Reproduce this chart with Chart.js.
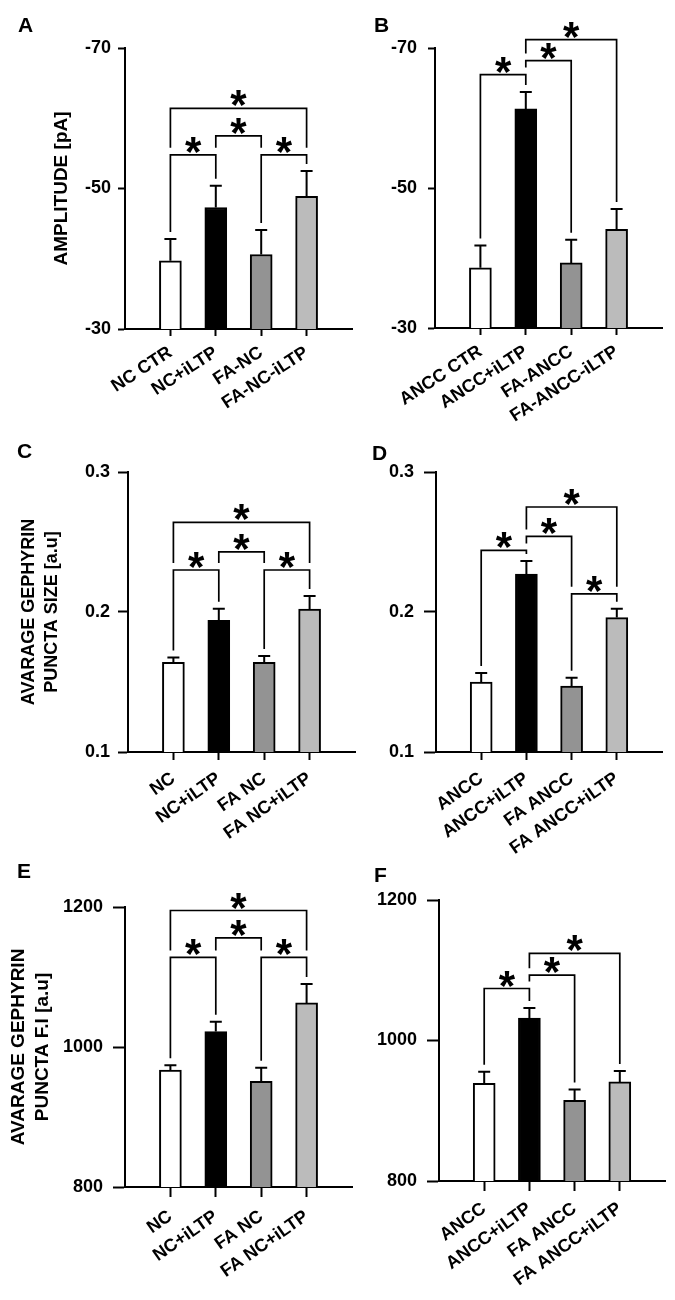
<!DOCTYPE html>
<html><head><meta charset="utf-8">
<script src="https://cdn.jsdelivr.net/npm/chart.js@4.4.1/dist/chart.umd.min.js"></script>
<style>
html,body{margin:0;padding:0;background:#fff;}
#wrap{position:relative;width:675px;height:1300px;overflow:hidden;background:#fff;}
canvas{position:absolute;}
.lbl{position:absolute;font:bold 21px "Liberation Sans",Arial,sans-serif;line-height:21px;color:#000;}
</style></head><body>
<div id="wrap">
<canvas id="cA" width="360" height="430" style="left:0;top:0"></canvas>
<canvas id="cB" width="315" height="430" style="left:360px;top:0"></canvas>
<canvas id="cC" width="360" height="420" style="left:0;top:430px"></canvas>
<canvas id="cE" width="360" height="450" style="left:0;top:850px"></canvas>
<canvas id="cF" width="315" height="450" style="left:360px;top:850px"></canvas>
<canvas id="cD" width="315" height="440" style="left:360px;top:430px"></canvas>
<div class="lbl" style="left:18px;top:14px">A</div>
<div class="lbl" style="left:374px;top:14px">B</div>
<div class="lbl" style="left:17px;top:440px">C</div>
<div class="lbl" style="left:372px;top:442px">D</div>
<div class="lbl" style="left:17px;top:860px">E</div>
<div class="lbl" style="left:374px;top:864px">F</div>
</div>
<script>
const FONT = '"Liberation Sans", Arial, sans-serif';

// ---- data ----
const categoriesA = ['NC CTR', 'NC+iLTP', 'FA-NC', 'FA-NC-iLTP'];
const valuesA = [-39.7, -47.3, -40.6, -48.9];
const semA = [3.1, 3.1, 3.5, 3.6];
const bracketsA = [[0, 3, -61.4], [0, 1, -54.8], [1, 2, -57.5], [2, 3, -54.8]];
const ticksA = [-70, -50, -30];

const categoriesB = ['ANCC CTR', 'ANCC+iLTP', 'FA-ANCC', 'FA-ANCC-iLTP'];
const valuesB = [-38.6, -61.3, -39.3, -44.1];
const semB = [3.2, 2.4, 3.3, 2.9];
const bracketsB = [[0, 1, -66.2], [1, 2, -68.2], [1, 3, -71.2]];
const ticksB = [-70, -50, -30];

const categoriesC = ['NC', 'NC+iLTP', 'FA NC', 'FA NC+iLTP'];
const valuesC = [0.164, 0.194, 0.164, 0.202];
const semC = [0.0035, 0.0084, 0.0045, 0.0095];
const bracketsC = [[0, 3, 0.264], [0, 1, 0.230], [1, 2, 0.243], [2, 3, 0.230]];
const ticksC = [0.1, 0.2, 0.3];

const categoriesD = ['ANCC', 'ANCC+iLTP', 'FA ANCC', 'FA ANCC+iLTP'];
const valuesD = [0.150, 0.227, 0.147, 0.196];
const semD = [0.0065, 0.0095, 0.006, 0.0064];
const bracketsD = [[0, 1, 0.244], [1, 2, 0.254], [1, 3, 0.275], [2, 3, 0.213]];
const ticksD = [0.1, 0.2, 0.3];

const categoriesE = ['NC', 'NC+iLTP', 'FA NC', 'FA NC+iLTP'];
const valuesE = [967, 1022, 951, 1063];
const semE = [7, 14, 19.5, 27];
const bracketsE = [[0, 3, 1195], [0, 1, 1128], [1, 2, 1156], [2, 3, 1128]];
const ticksE = [800, 1000, 1200];

const categoriesF = ['ANCC', 'ANCC+iLTP', 'FA ANCC', 'FA ANCC+iLTP'];
const valuesF = [939, 1032, 915, 941];
const semF = [16.6, 14.2, 15.2, 15.6];
const bracketsF = [[0, 1, 1074], [1, 2, 1093], [1, 3, 1124]];
const ticksF = [800, 1000, 1200];

// ---- styles ----
const barColors = ['#ffffff', '#000000', '#939393', '#bbbbbb'];

function panel(id, cfg) {
  const n = cfg.categories.length;
  const sigPlugin = {
    id: 'sig' + id,
    afterDatasetsDraw(chart) {
      const c = chart.ctx, ys = chart.scales.y, meta = chart.getDatasetMeta(0);
      const base = ys.getBaseValue();
      c.save();
      c.strokeStyle = '#000';
      c.lineWidth = 2;
      c.lineJoin = 'miter';
      const errTop = [];
      cfg.values.forEach((v, i) => {
        const el = meta.data[i];
        const dir = v < base ? -1 : 1;
        const yTop = ys.getPixelForValue(v);
        const yErr = ys.getPixelForValue(v + dir * cfg.sem[i]);
        errTop.push(yErr);
        c.beginPath();
        c.moveTo(el.x, yTop); c.lineTo(el.x, yErr);
        c.moveTo(el.x - 6, yErr); c.lineTo(el.x + 6, yErr);
        c.stroke();
      });
      const lv = cfg.brackets.map(b => ys.getPixelForValue(b[2]));
      c.lineWidth = 1.7;
      cfg.brackets.forEach((b, k) => {
        const y = lv[k];
        const legEnd = idx => {
          let obs = errTop[idx];
          cfg.brackets.forEach((o, m) => {
            if (m !== k && o[0] <= idx && o[1] >= idx && lv[m] > y && lv[m] < obs) obs = lv[m];
          });
          return obs - 7;
        };
        const x1 = meta.data[b[0]].x, x2 = meta.data[b[1]].x;
        c.beginPath();
        c.moveTo(x1, legEnd(b[0])); c.lineTo(x1, y); c.lineTo(x2, y); c.lineTo(x2, legEnd(b[1]));
        c.stroke();
        c.fillStyle = '#000';
        c.font = 'bold 42px ' + FONT;
        c.textAlign = 'center';
        c.textBaseline = 'alphabetic';
        c.fillText('*', (x1 + x2) / 2, y + 11);
      });
      c.restore();
    }
  };
  const tickFont = { family: FONT, size: 18, weight: 'bold' };
  new Chart(document.getElementById(id), {
    type: 'bar',
    data: {
      datasets: [{
        data: cfg.values.map((v, i) => ({ x: i + 1, y: v })),
        backgroundColor: barColors,
        borderColor: '#000',
        borderWidth: 2,
        borderSkipped: false,
        barThickness: 22
      }]
    },
    options: {
      responsive: false,
      animation: false,
      events: [],
      layout: { padding: { top: cfg.pt, right: cfg.pr, left: 0, bottom: 0 } },
      plugins: { legend: { display: false }, tooltip: { enabled: false } },
      scales: {
        x: {
          type: 'linear', min: 0, max: n + 1, offset: false,
          afterBuildTicks: s => { s.ticks = cfg.categories.map((_, i) => ({ value: i + 1 })); },
          afterFit: s => { s.height = cfg.xh; s.paddingLeft = 0; s.paddingRight = 0; },
          ticks: {
            autoSkip: false, minRotation: cfg.rot, maxRotation: cfg.rot, color: '#000',
            font: tickFont, padding: cfg.xpad,
            callback: v => cfg.categories[v - 1] ?? ''
          },
          grid: { display: true, drawOnChartArea: false, drawTicks: true, tickLength: cfg.xtl, tickWidth: 2, tickColor: '#000', offset: false },
          border: { display: true, color: '#000', width: 2 }
        },
        y: {
          type: 'linear', min: cfg.min, max: cfg.max, reverse: cfg.reverse,
          afterBuildTicks: s => { s.ticks = cfg.ticks.map(v => ({ value: v })); },
          afterFit: s => { s.width = cfg.yw; s.paddingTop = 0; s.paddingBottom = 0; },
          ticks: { color: '#000', font: tickFont, padding: cfg.ypad, callback: v => cfg.fmt(v) },
          grid: { display: true, drawOnChartArea: false, drawTicks: true, tickLength: cfg.ytl, tickWidth: 2, tickColor: '#000' },
          border: { display: true, color: '#000', width: 2 },
          title: cfg.title ? {
            display: true, text: cfg.title, color: '#000',
            font: { family: FONT, size: cfg.tsize, weight: 'bold', lineHeight: cfg.tlh },
            padding: { top: cfg.tpad, bottom: 0 }
          } : { display: false }
        }
      }
    },
    plugins: [sigPlugin]
  });
}

const fmtInt = v => String(v);
const fmt1 = v => v.toFixed(1);

panel('cA', { categories: categoriesA, values: valuesA, sem: semA, brackets: bracketsA, ticks: ticksA,
  min: -70, max: -30, reverse: true, fmt: fmtInt, rot: 33,
  pt: 48, pr: 8, yw: 125, xh: 101, ytl: 7, ypad: 7, xtl: 7, xpad: 6,
  title: 'AMPLITUDE [pA]', tsize: 19, tlh: 1.2, tpad: 50 });
panel('cB', { categories: categoriesB, values: valuesB, sem: semB, brackets: bracketsB, ticks: ticksB,
  min: -70, max: -30, reverse: true, fmt: fmtInt, rot: 33,
  pt: 48, pr: 13, yw: 75, xh: 102, ytl: 7, ypad: 11, xtl: 7, xpad: 6 });
panel('cC', { categories: categoriesC, values: valuesC, sem: semC, brackets: bracketsC, ticks: ticksC,
  min: 0.1, max: 0.3, reverse: false, fmt: fmt1, rot: 35,
  pt: 42, pr: 5, yw: 128, xh: 98, ytl: 10, ypad: 8, xtl: 8, xpad: 8,
  title: ['AVARAGE GEPHYRIN', 'PUNCTA SIZE [a.u]'], tsize: 18, tlh: 1.28, tpad: 17.5 });
panel('cD', { categories: categoriesD, values: valuesD, sem: semD, brackets: bracketsD, ticks: ticksD,
  min: 0.1, max: 0.3, reverse: false, fmt: fmt1, rot: 35,
  pt: 42, pr: 13, yw: 76, xh: 118, ytl: 12, ypad: 10, xtl: 8, xpad: 8 });
panel('cE', { categories: categoriesE, values: valuesE, sem: semE, brackets: bracketsE, ticks: ticksE,
  min: 800, max: 1200, reverse: false, fmt: fmtInt, rot: 35,
  pt: 57, pr: 8, yw: 125, xh: 113, ytl: 12, ypad: 10, xtl: 10, xpad: 9,
  title: ['AVARAGE GEPHYRIN', 'PUNCTA F.I [a.u]'], tsize: 19, tlh: 1.237, tpad: 7.25 });
panel('cF', { categories: categoriesF, values: valuesF, sem: semF, brackets: bracketsF, ticks: ticksF,
  min: 800, max: 1200, reverse: false, fmt: fmtInt, rot: 36,
  pt: 50, pr: 10, yw: 79, xh: 119, ytl: 12, ypad: 10, xtl: 10, xpad: 7 });
</script>
</body></html>
